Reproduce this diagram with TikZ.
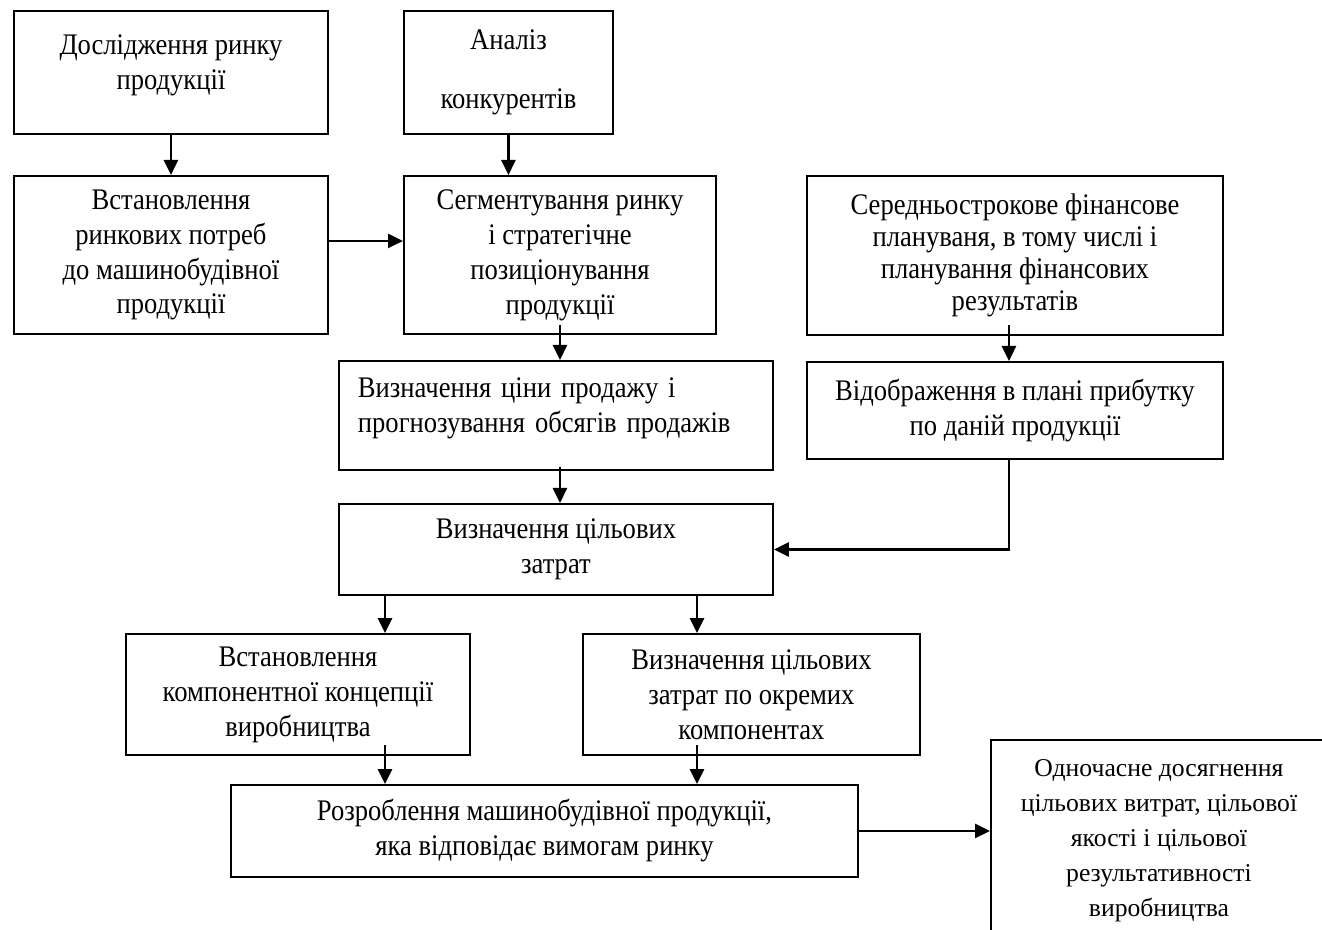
\documentclass[tikz,border=0pt]{standalone}
\usepackage{fontspec}
\setmainfont{Liberation Serif}
\newfontfamily\serre{Liberation Serif}[FakeStretch=0.89]
\usepackage{tikz}
\usetikzlibrary{calc,arrows.meta}
\tikzstyle{bloc} = [rectangle, draw=black, line width=1.1pt, anchor=north west, align=center, inner sep=0pt, font=\serre\fontsize{17}{19.9}\selectfont]
\tikzstyle{fleche} = [line width=1.5pt, -{Triangle[length=0.3cm,width=0.28cm]}]

\begin{document}
\begin{tikzpicture}

        \clip (0,0) rectangle (26.44,-18.6);

        \node (dosl) [bloc, minimum width=6.28cm, minimum height=2.46cm] at (0.26,-0.2) {Дослідження ринку\\продукції\\[-8pt]\mbox{}};
        \node (analiz) [bloc, minimum width=4.18cm, minimum height=2.46cm] at (8.06,-0.2) {Аналіз\\[14pt]конкурентів};

        \node (potreby) [bloc, minimum width=6.28cm, minimum height=3.16cm] at (0.26,-3.5) {Встановлення\\ринкових потреб\\до машинобудівної\\продукції};
        \node (segm) [bloc, minimum width=6.24cm, minimum height=3.16cm] at (8.06,-3.5) {Сегментування ринку\\і стратегічне\\позиціонування\\продукції};
        \node (fin) [bloc, minimum width=8.32cm, minimum height=3.18cm, font=\serre\fontsize{17}{18.2}\selectfont] at (16.12,-3.5) {Середньострокове фінансове\\плануваня, в тому числі і\\планування фінансових\\результатів};

        \node (cina) [bloc, minimum width=8.68cm, minimum height=2.18cm, align=left, text width=7.92cm, inner xsep=0.38cm] at (6.76,-7.2) {Визначення ціни продажу і\\прогнозування обсягів продажів\\[-8pt]\mbox{}};
        \node (prybutok) [bloc, minimum width=8.32cm, minimum height=1.94cm] at (16.12,-7.22) {Відображення в плані прибутку\\по даній продукції};

        \node (zatraty) [bloc, minimum width=8.68cm, minimum height=1.82cm] at (6.76,-10.06) {Визначення цільових\\затрат};

        \node (koncep) [bloc, minimum width=6.88cm, minimum height=2.42cm] at (2.5,-12.66) {Встановлення\\компонентної концепції\\виробництва};
        \node (komp) [bloc, minimum width=6.74cm, minimum height=2.42cm] at (11.64,-12.66) {Визначення цільових\\затрат по окремих\\компонентах};

        \node (rozrob) [bloc, minimum width=12.54cm, minimum height=1.84cm] at (4.6,-15.68) {Розроблення машинобудівної продукції,\\яка відповідає вимогам ринку};
        \node (rezult) [bloc, minimum width=6.72cm, minimum height=4.04cm, font=\fontsize{14.6}{19.9}\selectfont] at (19.8,-14.78) {Одночасне досягнення\\цільових витрат, цільової\\якості і цільової\\результативності\\виробництва};


        \draw[fleche] (dosl.south) -- (potreby.north);
        \draw[fleche] (analiz.south) -- (analiz.south |- segm.north);
        \draw[fleche] ([yshift=0.28cm]potreby.east) -- ([yshift=0.28cm]segm.west);
        \draw[fleche] ([yshift=0.2cm]segm.south) -- (segm.south |- cina.north);
        \draw[fleche] ([xshift=-0.12cm, yshift=0.22cm]fin.south) -- ([xshift=-0.12cm]prybutok.north);
        \draw[fleche] ([yshift=0.08cm]cina.south -| segm.south) -- (zatraty.north -| segm.south);
        \draw[fleche] ([xshift=-0.12cm]prybutok.south) |- (zatraty.east);
        \draw[fleche] ([xshift=0.94cm]zatraty.south west) -- ([xshift=0.94cm]zatraty.south west |- koncep.north);
        \draw[fleche] ([xshift=7.18cm]zatraty.south west) -- ([xshift=7.18cm]zatraty.south west |- komp.north);
        \draw[fleche] ([xshift=0.94cm, yshift=0.22cm]zatraty.south west |- koncep.south) -- ([xshift=0.94cm]zatraty.south west |- rozrob.north);
        \draw[fleche] ([xshift=7.18cm, yshift=0.22cm]zatraty.south west |- komp.south) -- ([xshift=7.18cm]zatraty.south west |- rozrob.north);
        \draw[fleche] (rozrob.east) -- (rozrob.east -| rezult.west);

\end{tikzpicture}
\end{document}
